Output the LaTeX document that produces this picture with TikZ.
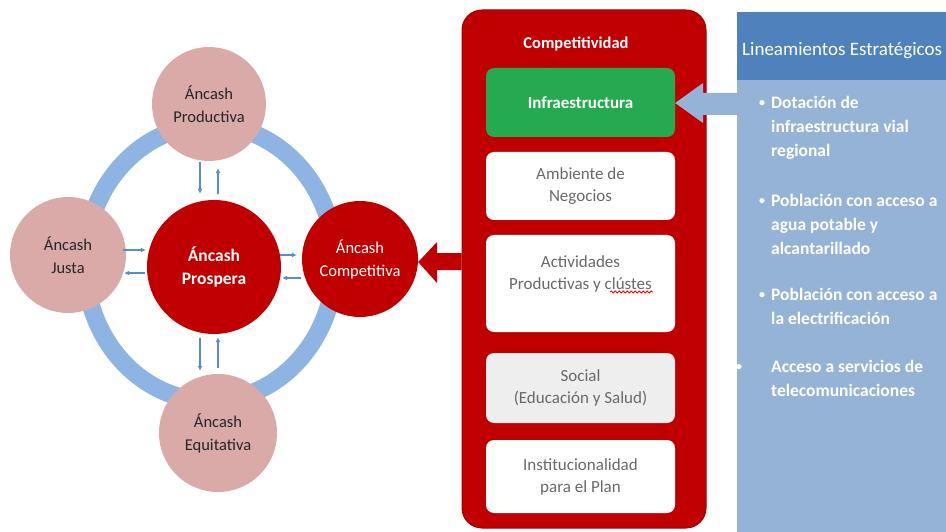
\documentclass[tikz,border=0pt]{standalone}
\usepackage{fontspec}
\setmainfont{Carlito}
\usetikzlibrary{arrows.meta,decorations.pathmorphing}
\definecolor{pinkc}{RGB}{218,170,168}
\definecolor{darkred}{RGB}{192,0,0}
\definecolor{ringblue}{RGB}{141,180,226}
\definecolor{arrblue}{RGB}{84,141,212}
\definecolor{boxgreen}{RGB}{38,170,80}
\definecolor{panelblue}{RGB}{149,179,215}
\definecolor{headblue}{RGB}{79,129,189}
\definecolor{graytext}{RGB}{105,105,105}
\definecolor{socialgray}{RGB}{238,238,238}
\tikzset{
  circbase/.style={circle, inner sep=0pt, align=center, font=\fontsize{16.5}{23}\selectfont},
  pinkcirc/.style={circbase, fill=pinkc, text=black!85},
  redcirc/.style={circbase, fill=darkred, text=white},
  smallarr/.style={draw=arrblue, line width=1.2pt, -{Latex[length=5pt,width=5pt]}},
  innerbox/.style={draw=none, rounded corners=8pt, minimum width=189pt, align=center,
    text=graytext, font=\fontsize{17}{22}\selectfont},
  bullettext/.style={anchor=north west, inner sep=0pt, align=left, text=white,
    font=\bfseries\fontsize{17.5}{24}\selectfont},
  bulletdot/.style={anchor=center, inner sep=0pt, text=white, font=\bfseries\fontsize{12}{12}\selectfont}
}
\begin{document}
\begin{tikzpicture}[x=1pt,y=-1pt]
\useasboundingbox (0,0) rectangle (946,532);
\fill[white] (0,0) rectangle (946,532);

% ring
\draw[ringblue, line width=18pt] (210,263) ellipse [x radius=125pt, y radius=138pt];

% circles
\node[pinkcirc, minimum size=114pt] (prod) at (209,104) {Áncash\\Productiva};
\node[pinkcirc, minimum size=116pt] (justa) at (68,255) {Áncash\\Justa};
\node[pinkcirc, minimum size=118pt] (equi) at (218,433) {Áncash\\Equitativa};
\node[redcirc, minimum size=134pt, font=\bfseries\fontsize{17.5}{23}\selectfont] (prosp) at (214,267) {Áncash\\Prospera};
\node[redcirc, minimum size=116pt] (comp) at (360,259) {Áncash\\Competitiva};

% small arrows
\draw[smallarr, shorten <=1pt, shorten >=6pt] ([xshift=-9pt]prod.south) -- ([xshift=-14pt]prosp.north);
\draw[smallarr, shorten <=6pt, shorten >=7pt] ([xshift=4pt]prosp.north) -- ([xshift=9pt]prod.south);
\draw[smallarr, shorten <=4pt, shorten >=3pt] ([xshift=-14pt]prosp.south) -- ([xshift=-18pt]equi.north);
\draw[smallarr, shorten <=6pt, shorten >=3pt] ([xshift=0pt]equi.north) -- ([xshift=4pt]prosp.south);
\draw[smallarr, shorten <=-3pt, shorten >=1pt] ([yshift=5pt]justa.east) -- ([yshift=17pt]prosp.west);
\draw[smallarr, shorten <=2pt, shorten >=-2pt] ([yshift=-6pt]prosp.west) -- ([yshift=-18pt]justa.east);
\draw[smallarr, shorten <=-1pt, shorten >=5pt] ([yshift=12pt]prosp.east) -- ([yshift=4pt]comp.west);
\draw[smallarr, shorten <=1pt, shorten >=1pt] ([yshift=-19pt]comp.west) -- ([yshift=-11pt]prosp.east);

% competitividad panel
\node[fill=darkred, draw=darkred!85!black, line width=1pt, rounded corners=20pt,
  minimum width=244pt, minimum height=518pt, inner sep=0pt] (panel) at (584,269) {};
\node[text=white, font=\bfseries\fontsize{16.5}{18}\selectfont] (ptitle) at (576,44) {Competitividad};

\node[innerbox, fill=boxgreen, minimum height=69pt, text=white,
  font=\bfseries\fontsize{17}{22}\selectfont] (infra) at (580.5,102.5) {Infraestructura};
\node[innerbox, fill=white, minimum height=68pt] (amb) at (580.5,186) {Ambiente de\\Negocios};
\node[innerbox, fill=white, minimum height=97pt, text depth=22pt] (act) at (580.5,283.5) {Actividades\\Productivas y clústes};
\node[innerbox, fill=socialgray, minimum height=70pt] (soc) at (580.5,388) {Social\\(Educación y Salud)};
\node[innerbox, fill=white, minimum height=73pt] (inst) at (580.5,476.5) {Institucionalidad\\para el Plan};
\draw[red, line width=0.8pt, decorate, decoration={snake, amplitude=1pt, segment length=4pt}]
  (610,292) -- (653,292);

% big red arrow
\fill[darkred] (panel.west |- 0,253) -- (437,253) -- (437,242) -- (comp.east |- 0,262) -- (437,283)
  -- (437,270) -- (panel.west |- 0,270) -- cycle;

% lineamientos panel
\node[fill=panelblue, minimum width=209pt, minimum height=520pt, inner sep=0pt, anchor=north west] (lin) at (737,12) {};
\node[fill=headblue, minimum width=209pt, minimum height=68pt, inner sep=0pt, anchor=north west] (head) at (737,12) {};
\node[text=white, font=\fontsize{19}{21}\selectfont, anchor=west, inner sep=0pt] (htitle) at (742,51) {Lineamientos Estratégicos};

% blue arrow
\fill[panelblue] (lin.west |- 0,93) -- (703,93) -- (703,83) -- (infra.east |- 0,103) -- (703,123)
  -- (703,115) -- (lin.west |- 0,115) -- cycle;

% bullets
\node[bulletdot] (d1) at (762,104) {•};
\node[bullettext] (b1) at (771,96) {Dotación de\\infraestructura vial\\regional};
\node[bulletdot] (d2) at (762,202) {•};
\node[bullettext] (b2) at (771,194) {Población con acceso a\\agua potable y\\alcantarillado};
\node[bulletdot] (d3) at (762,296) {•};
\node[bullettext] (b3) at (771,288) {Población con acceso a\\la electrificación};
\node[bulletdot] (d4) at (739,368) {•};
\node[bullettext] (b4) at (771,360) {Acceso a servicios de\\telecomunicaciones};
\end{tikzpicture}
\end{document}
